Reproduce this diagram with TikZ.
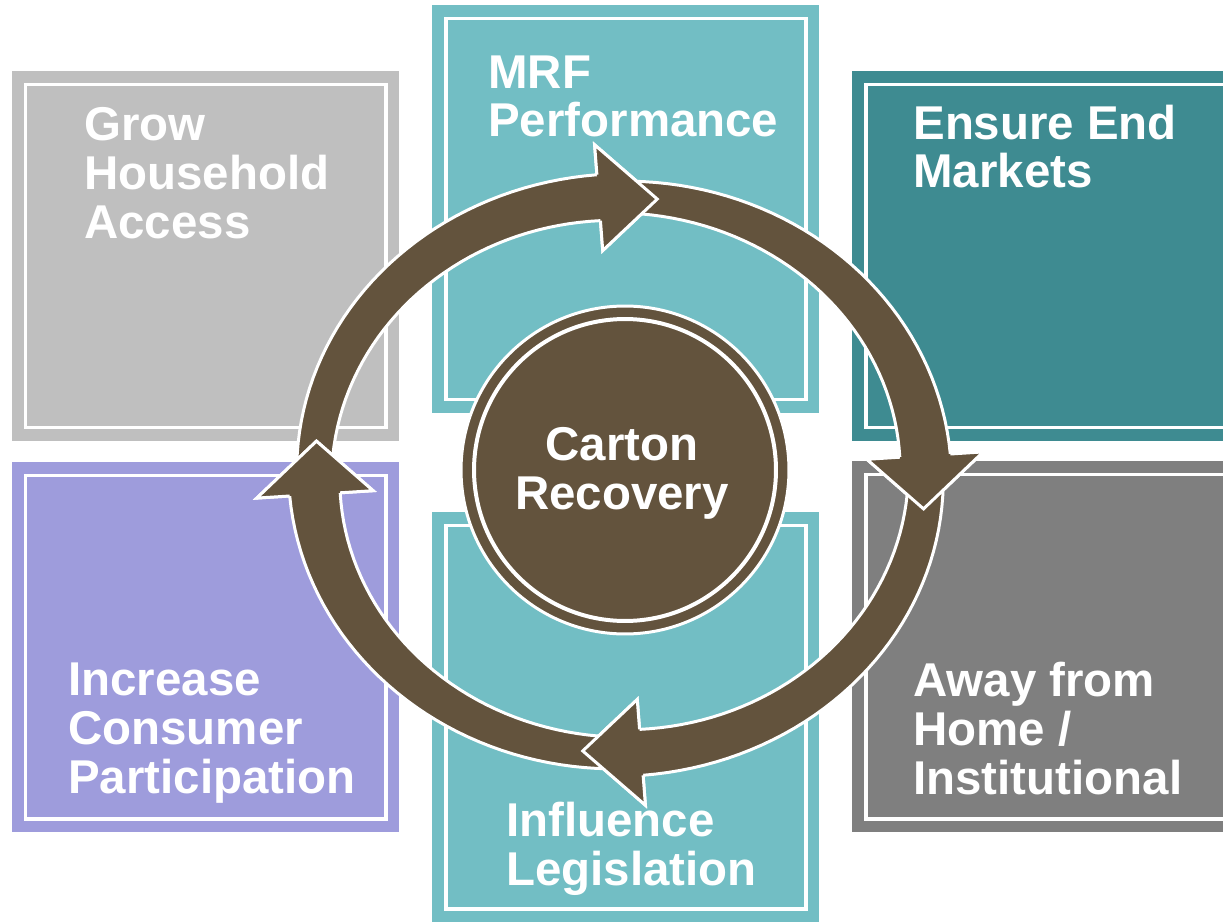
\documentclass[tikz,border=0pt]{standalone}
\usepackage{fontspec}
\setmainfont{Liberation Sans}
\definecolor{boxgray}{HTML}{BFBFBF}
\definecolor{boxteal}{HTML}{72BEC4}
\definecolor{boxdeepteal}{HTML}{3E8B91}
\definecolor{boxpurple}{HTML}{9E9CDC}
\definecolor{boxdarkgray}{HTML}{7F7F7F}
\definecolor{cartonbrown}{HTML}{63533D}
\begin{document}
\begin{tikzpicture}[x=0.02cm,y=-0.02cm,
	cardtext/.style={text=white,font=\fontsize{27}{27.8}\selectfont\bfseries,inner sep=0pt,align=left},
	frame/.style={draw=white,line width=2.27pt},
	ringpiece/.style={fill=cartonbrown,draw=white,line width=1.7pt}]
	\newcommand{\ringx}{620}
	\newcommand{\ringy}{475}
	\newcommand{\ringr}{278}
	\newcommand{\ringsx}{1.1}
	%Canvas
	\clip (0,0) rectangle (1223,922);
	\fill[white] (0,0) rectangle (1223,922);
	%The six boxes with their white frames
	\foreach \bx/\by/\bh/\bcol in {12/71/370/boxgray,432/5/408/boxteal,852/71/370/boxdeepteal,
		12/462/370/boxpurple,432/512/410/boxteal,852/461/371/boxdarkgray} {
		\fill[\bcol] (\bx,\by) rectangle ++(387,\bh);
		\draw[frame] (\bx+13.5,\by+13.5) rectangle (\bx+373.5,\by+\bh-13.5);
	}
	%Hub in the middle
	\coordinate (hub) at (625,470);
	\filldraw[fill=cartonbrown,draw=white,line width=1.7pt] (hub) circle[radius=3.28cm];
	\draw[white,line width=2.27pt] (hub) circle[radius=3.02cm];
	%Ring of four arrows, tail of each one under the head before it
	\foreach \k in {0,...,3} {
		\pgfmathsetmacro{\tp}{-83+90*\k}
		\pgfmathsetmacro{\ta}{\tp-95}
		\pgfmathsetmacro{\tb}{\tp-11}
		\path[ringpiece] plot[domain=\ta:\tb,samples=40]
			({\ringx+\ringsx*(\ringr+16+7*(\x-(\ta))/84)*cos(\x)},{\ringy+(\ringr+16+7*(\x-(\ta))/84)*sin(\x)})
			-- ({\ringx+\ringsx*(\ringr+53)*cos(\tb)},{\ringy+(\ringr+53)*sin(\tb)})
			-- ({\ringx+\ringsx*\ringr*cos(\tp)},{\ringy+\ringr*sin(\tp)})
			-- ({\ringx+\ringsx*(\ringr-53)*cos(\tb)},{\ringy+(\ringr-53)*sin(\tb)})
			-- plot[domain=\tb:\ta,samples=40]
			({\ringx+\ringsx*(\ringr-16-7*(\x-(\ta))/84)*cos(\x)},{\ringy+(\ringr-16-7*(\x-(\ta))/84)*sin(\x)});
	}
	%Heads once more on top
	\foreach \k in {0,...,3} {
		\pgfmathsetmacro{\tp}{-83+90*\k}
		\pgfmathsetmacro{\tb}{\tp-11}
		\path[ringpiece] ({\ringx+\ringsx*(\ringr+23)*cos(\tb)},{\ringy+(\ringr+23)*sin(\tb)})
			-- ({\ringx+\ringsx*(\ringr+53)*cos(\tb)},{\ringy+(\ringr+53)*sin(\tb)})
			-- ({\ringx+\ringsx*\ringr*cos(\tp)},{\ringy+\ringr*sin(\tp)})
			-- ({\ringx+\ringsx*(\ringr-53)*cos(\tb)},{\ringy+(\ringr-53)*sin(\tb)})
			-- ({\ringx+\ringsx*(\ringr-23)*cos(\tb)},{\ringy+(\ringr-23)*sin(\tb)});
	}
	%Labels (base is the last line)
	\node[cardtext,anchor=base west] (grow) at (84,238) {Grow\\Household\\Access};
	\node[cardtext,anchor=base west] (mrf) at (488,137) {MRF\\Performance};
	\node[cardtext,anchor=base west] (ensure) at (913,188) {Ensure End\\Markets};
	\node[cardtext,anchor=base west] (increase) at (68,793) {Increase\\Consumer\\Participation};
	\node[cardtext,anchor=base west] (influence) at (506,885) {Influence\\Legislation};
	\node[cardtext,anchor=base west] (away) at (913,794) {Away from\\Home /\\Institutional};
	\node[cardtext,align=center,anchor=base] (carton) at (622,509) {Carton\\Recovery};
\end{tikzpicture}
\end{document}
